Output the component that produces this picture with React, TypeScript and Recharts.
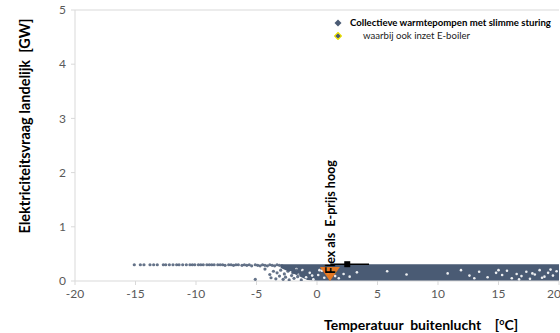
import React from 'react';
import {ComposedChart, Scatter, Area, Line, XAxis, YAxis, ReferenceLine, ReferenceDot, Label} from 'recharts';

// as ticks
const xTicks = [-20, -15, -10, -5, 0, 5, 10, 15, 20];
const yTicks = [0, 1, 2, 3, 4, 5];

// bovenste rij punten (maximale vraag), temperatuur [°C] en vraag [GW]
const topRowT = [-15.1, -14.6, -14.3, -13.8, -13.5, -13.2, -12.7, -12.5, -12.2, -11.9, -11.6, -11.4, -11.1, -10.8,
    -10.5, -10.3, -10.1, -9.8, -9.6, -9.4, -9.1, -8.9, -8.7, -8.5, -8.2, -8.0, -7.8, -7.6, -7.3, -7.1, -6.9, -6.7,
    -6.5, -6.2, -6.0, -5.8, -5.6, -5.4, -5.1, -4.9, -4.7, -4.5, -4.3, -4.1, -3.9, -3.7, -3.5, -3.3, -3.1, -2.9];
const topRowV = [0.3, 0.3, 0.3, 0.3, 0.3, 0.3, 0.3, 0.3, 0.3, 0.3, 0.3, 0.3, 0.3, 0.3,
    0.3, 0.3, 0.3, 0.3, 0.3, 0.3, 0.3, 0.3, 0.3, 0.3, 0.3, 0.3, 0.3, 0.29, 0.3, 0.3, 0.29, 0.3,
    0.3, 0.29, 0.3, 0.29, 0.3, 0.28, 0.3, 0.29, 0.28, 0.3, 0.29, 0.28, 0.3, 0.29, 0.28, 0.3, 0.29, 0.28];

// losse punten onder de bovenste rij (rond -5 .. -1 °C)
const lowT = [-5.1, -4.3, -3.9, -3.8, -3.6, -3.4, -3.3, -3.1, -3.0, -2.8, -2.7, -2.6, -2.4, -2.3, -2.1, -2.0, -1.9, -1.7, -1.6, -1.4, -1.3, -1.1];
const lowV = [0.03, 0.22, 0.12, 0.06, 0.18, 0.04, 0.15, 0.09, 0.2, 0.03, 0.13, 0.07, 0.18, 0.02, 0.1, 0.15, 0.05, 0.2, 0.08, 0.13, 0.02, 0.17];

// dichte band van punten: onder- en bovengrens
const bandT = [-3.0, -2.4, -1.6, -0.8, 0, 5, 10, 15, 20.5];
const bandLow = [0.24, 0.18, 0.1, 0.02, 0, 0, 0, 0, 0];
const bandHigh = [0.31, 0.31, 0.31, 0.31, 0.31, 0.31, 0.31, 0.31, 0.31];

// lege plekken in de band
const gapT = [-2.6, -2.2, -1.9, -1.5, -1.2, -0.9, -0.6, -0.3, 0.1, 0.4, 0.6, 0.9, 1.5, 1.8, 2.2, 2.7, 3.3, 5.8, 7.4,
    10.8, 11.9, 12.6, 13.4, 14.1, 14.8, 15.3, 15.7, 16.1, 16.5, 16.9, 17.3, 17.6, 18.0, 18.4, 18.8, 19.1, 19.5, 19.8,
    -1.7, -0.4, 0.2, 13.0, 15.0, 16.7, 17.8, 18.6, 19.3];
const gapV = [0.08, 0.16, 0.04, 0.12, 0.2, 0.07, 0.15, 0.03, 0.11, 0.19, 0.06, 0.14, 0.09, 0.05, 0.13, 0.08, 0.16, 0.18, 0.12,
    0.14, 0.2, 0.1, 0.17, 0.07, 0.15, 0.11, 0.19, 0.05, 0.13, 0.09, 0.17, 0.04, 0.12, 0.2, 0.08, 0.15, 0.1, 0.18,
    0.22, 0.1, 0.2, 0.05, 0.2, 0.03, 0.14, 0.06, 0.21];

// flex als E-prijs hoog
const flexT = [1.07];
const flexV = [0.13];
const sqT = [2.5];
const sqV = [0.31];
const rangeT = [1.1, 4.3];
const rangeV = [0.31, 0.31];

const dotColor = '#4a5b74';

const topRow = topRowT.map((t, i) => ({t, v: topRowV[i]}));
const lowPts = lowT.map((t, i) => ({t, v: lowV[i]}));
const bandData = bandT.map((t, i) => ({t, band: [bandLow[i], bandHigh[i]]}));
const gapPts = gapT.map((t, i) => ({t, v: gapV[i]}));
const flexPts = flexT.map((t, i) => ({t, v: flexV[i]}));
const sqPts = sqT.map((t, i) => ({t, v: sqV[i]}));
const rangePts = rangeT.map((t, i) => ({t, v: rangeV[i]}));

const font = 'Lato, "Open Sans", sans-serif';

const SmallDot = ({cx, cy}: any) => <circle cx={cx} cy={cy} r={1.6} fill={dotColor} fillOpacity={0.85}/>;
const GapDot = ({cx, cy}: any) => <circle cx={cx} cy={cy} r={1.3} fill="#ffffff" fillOpacity={0.9}/>;
const DownTriangle = ({cx, cy}: any) => (
    <path d={`M${cx - 10},${cy - 7} L${cx + 10},${cy - 7} L${cx},${cy + 7} Z`} fill="#f07b1c" fillOpacity={0.92}/>
);
const Square = ({cx, cy}: any) => <rect x={cx - 3} y={cy - 3} width={6} height={6} fill="#000"/>;

const Diamond = ({fill, stroke}: {fill: string; stroke?: string}) => (
    <svg width={8} height={8} style={{display: 'inline-block'}}>
        <path d="M4,0.5 L7.5,4 L4,7.5 L0.5,4 Z" fill={fill} stroke={stroke || 'none'} strokeWidth={1.2}/>
    </svg>
);

export default function App() {
    return (
        <div style={{position: 'absolute', left: 0, top: 0, width: 560, height: 333, background: '#fff', fontFamily: font}}>
            <ComposedChart width={560} height={333} margin={{top: 10, right: 1, left: 35, bottom: 22}}>
                <XAxis
                    type="number"
                    dataKey="t"
                    domain={[-20, 20]}
                    ticks={xTicks}
                    allowDataOverflow
                    stroke="#d9d9d9"
                    tickSize={4}
                    height={30}
                    tick={{fill: '#595959', fontSize: 12, fontFamily: font}}
                    tickMargin={4}
                >
                    <Label content={() => (
                        <text x={421} y={330} textAnchor="middle" fontFamily={font} fontWeight="bold" fontSize={14} fill="#000">
                            {'Temperatuur\u00a0 buitenlucht\u00a0\u00a0\u00a0 ['}
                            <tspan fontSize={9} dy={-5}>o</tspan>
                            <tspan dy={5}>C]</tspan>
                        </text>
                    )}/>
                </XAxis>
                <YAxis
                    type="number"
                    domain={[0, 5]}
                    ticks={yTicks}
                    allowDataOverflow
                    stroke="#d9d9d9"
                    tickSize={4}
                    width={40}
                    tick={{fill: '#595959', fontSize: 12, fontFamily: font}}
                    tickMargin={5}
                >
                    <Label content={() => (
                        <text x={26} y={126} transform="rotate(-90 26 126)" textAnchor="middle" dominantBaseline="middle"
                              fontFamily={font} fontWeight="bold" fontSize={14.5} fill="#000">
                            {'Elektriciteitsvraag landelijk\u00a0 [GW]'}
                        </text>
                    )}/>
                </YAxis>
                <ReferenceLine y={5} stroke="#d9d9d9"/>
                <Area data={bandData} dataKey="band" type="linear" stroke="none" fill={dotColor} fillOpacity={1}
                      isAnimationActive={false}/>
                <Scatter data={gapPts} dataKey="v" shape={GapDot} isAnimationActive={false}/>
                <Scatter data={topRow} dataKey="v" shape={SmallDot} isAnimationActive={false}/>
                <Scatter data={lowPts} dataKey="v" shape={SmallDot} isAnimationActive={false}/>
                <Scatter data={flexPts} dataKey="v" shape={DownTriangle} isAnimationActive={false}/>
                <Line data={rangePts} dataKey="v" type="linear" stroke="#000" strokeWidth={1.5} dot={false}
                      isAnimationActive={false}/>
                <Scatter data={sqPts} dataKey="v" shape={Square} isAnimationActive={false}/>
                <ReferenceDot x={1.25} y={1.18} r={0} stroke="none" fill="none">
                    <Label content={(props: any) => {
                        const vb = props.viewBox || {};
                        const cx = vb.cx ?? vb.x ?? 332;
                        const cy = vb.cy ?? vb.y ?? 213;
                        return (
                            <text x={cx} y={cy} transform={`rotate(-90 ${cx} ${cy})`} textAnchor="middle"
                                  dominantBaseline="middle" fontFamily={font} fontWeight="bold" fontSize={12.5} fill="#000">
                                {'Flex als\u00a0 E-prijs hoog'}
                            </text>
                        );
                    }}/>
                </ReferenceDot>
            </ComposedChart>
            <div style={{position: 'absolute', left: 334, top: 16, fontSize: 9.6, lineHeight: '13px', color: '#000', whiteSpace: 'nowrap'}}>
                <div style={{display: 'flex', alignItems: 'center'}}>
                    <Diamond fill="#4a5b74"/>
                    <span style={{marginLeft: 8, fontWeight: 'bold'}}>Collectieve warmtepompen met slimme sturing</span>
                </div>
                <div style={{display: 'flex', alignItems: 'center'}}>
                    <Diamond fill="#4a5b74" stroke="#f2e600"/>
                    <span style={{marginLeft: 21, color: '#222'}}>waarbij ook inzet E-boiler</span>
                </div>
            </div>
        </div>
    );
}
